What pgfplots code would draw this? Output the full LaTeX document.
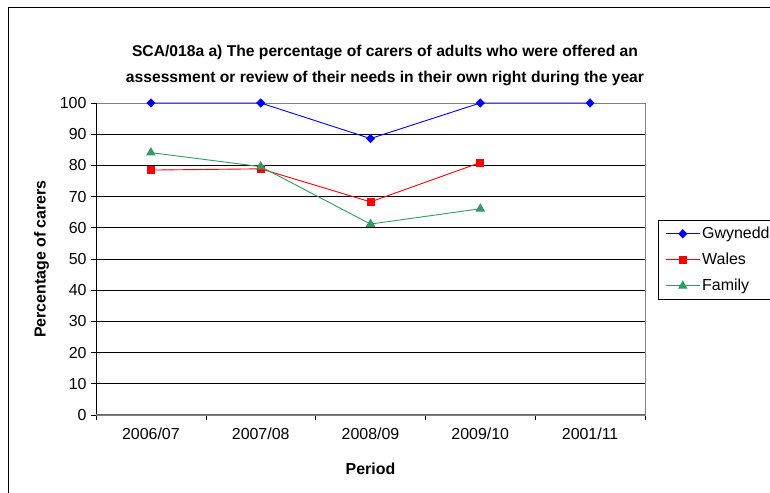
\documentclass[border=0pt]{standalone}
\usepackage{fontspec}
\setmainfont{Liberation Sans}
\usepackage{pgfplots}
\pgfplotsset{compat=1.18}

\definecolor{famgreen}{RGB}{51,153,102}

\begin{document}
\begin{tikzpicture}[x=1bp,y=1bp]
  % page area and outer chart frame
  \useasboundingbox (0,0) rectangle (770,493);
  \draw[black, line width=0.8bp] (8,0) -- (8,486) -- (772,486);

  % chart title
  \node[font=\fontsize{15.7}{18}\selectfont\bfseries] at (385,440) {SCA/018a a) The percentage of carers of adults who were offered an};
  \node[font=\fontsize{15.7}{18}\selectfont\bfseries] at (385,415) {assessment or review of their needs in their own right during the year};

  \begin{axis}[
    at={(96bp,78bp)}, anchor=south west,
    scale only axis,
    width=549bp, height=312bp,
    xmin=-0.5, xmax=4.5,
    ymin=0, ymax=100,
    ytick={0,10,...,100},
    xtick={-0.5,0.5,...,4.5},
    xticklabels={},
    extra x ticks={0,1,2,3,4},
    extra x tick labels={2006/07,2007/08,2008/09,2009/10,2001/11},
    extra x tick style={major tick length=0pt, grid=none},
    tick align=outside,
    xtick pos=bottom, ytick pos=left,
    major tick length=5bp,
    tick style={black, line width=0.6bp},
    ymajorgrids,
    major grid style={black, line width=0.6bp},
    axis line style={gray, line width=0.8bp},
    /pgf/number format/assume math mode=true,
    tick label style={font=\fontsize{16}{18}\selectfont},
    yticklabel style={xshift=-1bp},
    xticklabel style={yshift=-9bp},
    label style={font=\fontsize{16}{18}\selectfont\bfseries},
    xlabel={Period},
    ylabel={Percentage of carers},
    xlabel style={yshift=-12bp},
    ylabel style={yshift=4bp},
    legend style={
      at={(1.0237,0.625)}, anchor=north west,
      draw=black, line width=0.6bp,
      font=\fontsize{16}{18}\selectfont,
      row sep=9bp, inner xsep=7bp, inner ysep=5bp,
      legend cell align=left,
      nodes={xshift=4bp},
    },
    legend image code/.code={
      \draw[mark repeat=2, mark phase=2, #1]
        plot coordinates {(0bp,0bp) (17bp,0bp) (34bp,0bp)};
    },
    legend image post style={line width=0.9bp},
    every axis plot/.append style={line width=0.9bp},
    after end axis/.code={
      \draw[black, line width=0.8bp] (rel axis cs:0,0) -- (rel axis cs:0,1);
      \draw[gray!80!black, line width=1bp] (rel axis cs:0,0) -- (rel axis cs:1,0);
    },
  ]
    \addplot[blue, mark=diamond*, mark size=4bp, mark options={solid,fill=blue,xscale=1.3}]
      coordinates {(0,100) (1,100) (2,88.6) (3,100) (4,100)};
    \addlegendentry{Gwynedd}
    \addplot[red, mark=square*, mark size=3.5bp, mark options={solid,fill=red}]
      coordinates {(0,78.5) (1,78.9) (2,68.3) (3,80.9)};
    \addlegendentry{Wales}
    \addplot[famgreen, mark=triangle*, mark size=4.6bp, mark options={solid,fill=famgreen}]
      coordinates {(0,84.1) (1,79.6) (2,61.2) (3,66.1)};
    \addlegendentry{Family}
  \end{axis}
\end{tikzpicture}
\end{document}
